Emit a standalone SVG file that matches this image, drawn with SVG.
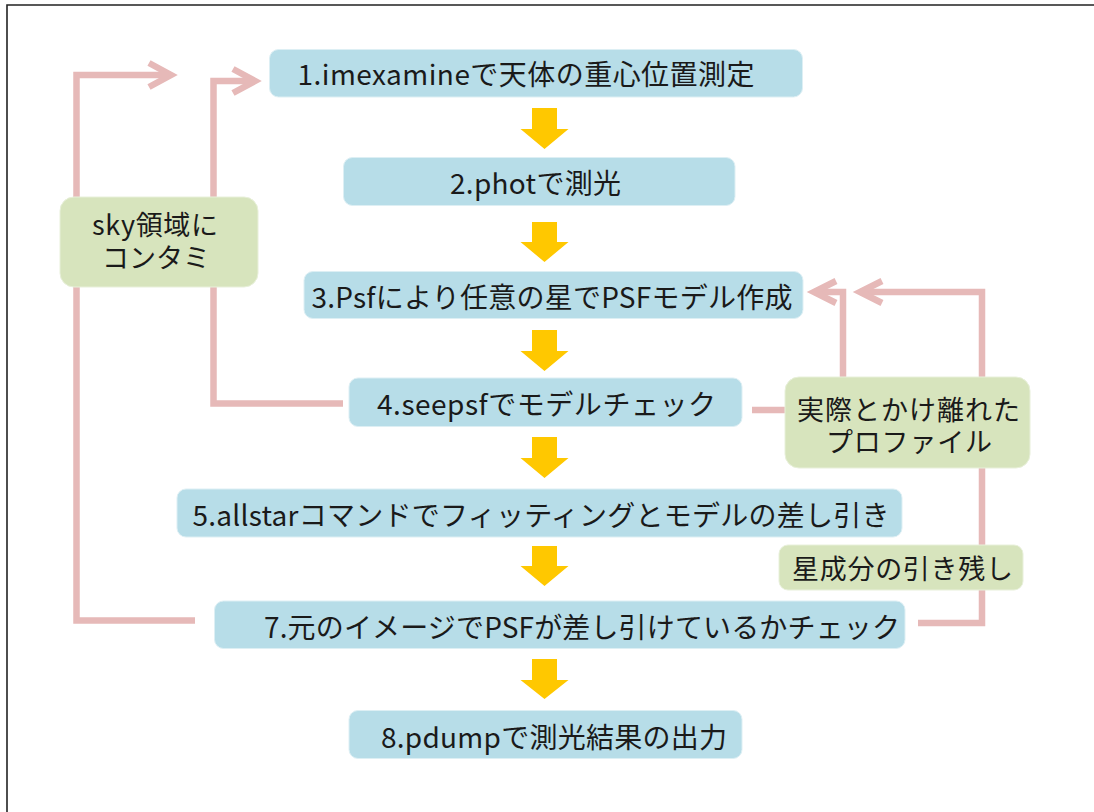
<svg xmlns="http://www.w3.org/2000/svg" width="1094" height="812" viewBox="0 0 1094 812">
<style>
.blue{fill:#B7DDE8;stroke:#DDEFF4;stroke-width:1}
.green{fill:#D7E4BD;stroke:#E8F0DA;stroke-width:1}
.t{font-family:"Noto Sans CJK JP","Noto Sans",sans-serif;font-size:28px;fill:#1a1a1a;text-anchor:middle;dominant-baseline:central}
.g{font-size:27px}
.pk{fill:none;stroke:#E6B9B8;stroke-width:6.5;stroke-linejoin:miter;stroke-linecap:butt}
.ya{fill:#FFC800}
</style>
<rect x="0" y="0" width="1094" height="812" fill="#ffffff"/>
<path d="M7,812 V5 H1094" fill="none" stroke="#222" stroke-width="1.6"/>
<g id="connectors">
  <path class="pk" d="M195,620.5 H76.5 V75 H171"/>
  <path class="pk" d="M149,63 L171,75 L149,87"/>
  <path class="pk" d="M343,403.5 H213.5 V81 H255"/>
  <path class="pk" d="M233,69 L255,81 L233,93"/>
  <path class="pk" d="M918,623 H982 V292 H860"/>
  <path class="pk" d="M882,281 L860,292 L882,303"/>
  <path class="pk" d="M752,410 H790"/>
  <path class="pk" d="M843,380 V292 H814"/>
  <path class="pk" d="M836,281 L814,292 L836,303"/>
  <path class="ya" d="M532,108 H557 V129 H568.5 L544.5,149 L520.5,129 H532 Z"/>
  <path class="ya" d="M532,222 H557 V242 H568.5 L544.5,262 L520.5,242 H532 Z"/>
  <path class="ya" d="M532,330 H557 V351 H568.5 L544.5,371 L520.5,351 H532 Z"/>
  <path class="ya" d="M532,437 H557 V458 H568.5 L544.5,478 L520.5,458 H532 Z"/>
  <path class="ya" d="M532,546 H557 V566 H568.5 L544.5,586 L520.5,566 H532 Z"/>
  <path class="ya" d="M532,659 H557 V680 H568.5 L544.5,699 L520.5,680 H532 Z"/>
</g>
<g id="n1"><rect class="blue" x="269.5" y="49.5" width="533" height="47.5" rx="9"/><text class="t" x="526" y="73" textLength="457" lengthAdjust="spacing">1.imexamineで天体の重心位置測定</text></g>
<g id="n2"><rect class="blue" x="343.5" y="157.5" width="391.5" height="48" rx="9"/><text class="t" x="535.5" y="182" textLength="171" lengthAdjust="spacing">2.photで測光</text></g>
<g id="n3"><rect class="blue" x="304" y="271.5" width="499" height="47" rx="9"/><text class="t" x="552" y="296" textLength="481" lengthAdjust="spacing">3.Psfにより任意の星でPSFモデル作成</text></g>
<g id="n4"><rect class="blue" x="349" y="378" width="393" height="48.5" rx="9"/><text class="t" x="546.5" y="403" textLength="339" lengthAdjust="spacing">4.seepsfでモデルチェック</text></g>
<g id="n5"><rect class="blue" x="177" y="489" width="725" height="48" rx="9"/><text class="t" x="541" y="514" textLength="697" lengthAdjust="spacing">5.allstarコマンドでフィッティングとモデルの差し引き</text></g>
<g id="n7"><rect class="blue" x="214.5" y="601" width="690.5" height="47.5" rx="9"/><text class="t" x="582" y="626" textLength="636" lengthAdjust="spacing">7.元のイメージでPSFが差し引けているかチェック</text></g>
<g id="n8"><rect class="blue" x="349" y="710.5" width="393" height="48" rx="9"/><text class="t" x="554" y="736" textLength="346" lengthAdjust="spacing">8.pdumpで測光結果の出力</text></g>
<g id="sky"><rect class="green" x="60" y="197" width="198" height="90" rx="14"/><text class="t g" x="155" y="223" textLength="126" lengthAdjust="spacing">sky領域に</text><text class="t g" x="156" y="256" textLength="108" lengthAdjust="spacing">コンタミ</text></g>
<g id="profile"><rect class="green" x="785" y="377" width="245" height="91" rx="14"/><text class="t g" x="908.5" y="408" textLength="223" lengthAdjust="spacing">実際とかけ離れた</text><text class="t g" x="909" y="440" textLength="166" lengthAdjust="spacing">プロファイル</text></g>
<g id="residual"><rect class="green" x="779" y="545" width="244" height="45" rx="9"/><text class="t g" x="902.5" y="567" textLength="221" lengthAdjust="spacing">星成分の引き残し</text></g>
</svg>
